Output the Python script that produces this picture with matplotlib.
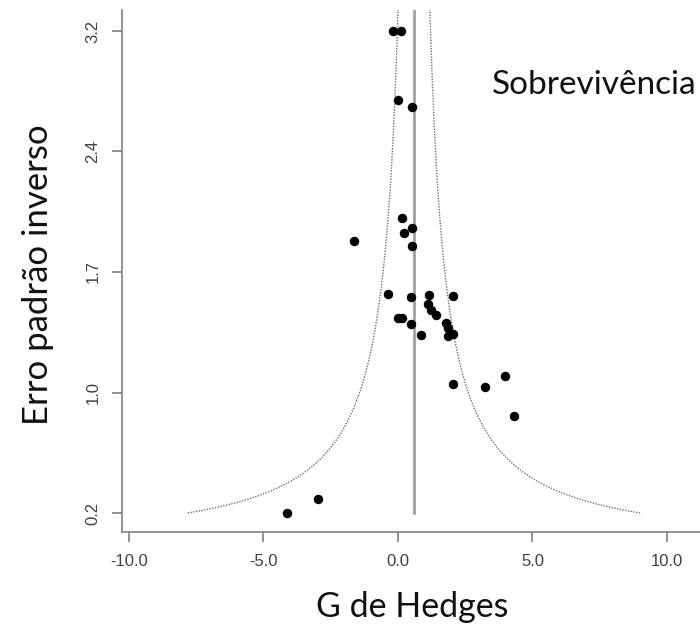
import numpy as np
import matplotlib
matplotlib.use("Agg")
import matplotlib.pyplot as plt

# effect sizes (Hedges g) and inverse standard errors
g = [-0.17, 0.10, -0.01, 0.51, 0.16, 0.51, 0.23, -1.62, 0.53,
     -0.36, 0.48, 1.15, 2.03, 1.10, 1.22, 1.41, -0.01, 0.14, 0.48,
     1.78, 1.85, 0.86, 1.87, 2.03, 2.03, 3.23, 3.98, 4.31, -4.14, -2.99]
prec = [3.18, 3.18, 2.758, 2.713, 2.038, 1.977, 1.943, 1.896, 1.867,
        1.570, 1.555, 1.566, 1.562, 1.509, 1.474, 1.444, 1.427, 1.427, 1.387,
        1.393, 1.366, 1.321, 1.317, 1.326, 1.020, 1.005, 1.071, 0.828, 0.233, 0.317]
centro = 0.595
xticks = [-10, -5, 0, 5, 10]

fig = plt.figure(figsize=(7, 6.37), dpi=100)
ax = fig.add_axes([122/700, (637-532)/637, (700-122)/700, (532-10)/637])

ylo, yhi = min(prec), max(prec)
ytop = 3.308
yy = np.linspace(ylo, ytop, 400)
ax.plot(centro - 1.96/yy, yy, color='#707070', lw=1.0, ls=(0, (1, 1)))
ax.plot(centro + 1.96/yy, yy, color='#707070', lw=1.0, ls=(0, (1, 1)))
ax.plot([centro, centro], [ylo, ytop], color='#a0a0a0', lw=2.0)
ax.plot(g, prec, 'o', color='black', ms=5.8, mec='black')

ax.set_xlim(-10.26, 11.23)
ax.set_ylim(0.117, ytop)
ax.set_xticks(xticks)
ax.set_xticklabels(['%.1f' % v for v in xticks])
yt = np.linspace(ylo, yhi, 5)
ax.set_yticks(yt)
ax.set_yticklabels(['%.1f' % v for v in yt], rotation=90, va='center')

for s in ['top', 'right']:
    ax.spines[s].set_visible(False)
for s in ['left', 'bottom']:
    ax.spines[s].set_color('#808080')
    ax.spines[s].set_linewidth(1.2)
ax.tick_params(length=7.5, width=1.2, color='#808080', labelcolor='#404040',
               labelsize=12, pad=8)
for lab in ax.get_xticklabels() + ax.get_yticklabels():
    lab.set_family('Liberation Sans')

fig.text(412/700, 1 - 607/637, 'G de Hedges', family='Lato', fontsize=24.5,
         ha='center', va='center', color='#111111')
fig.text(38/700, 1 - 275/637, 'Erro padrão inverso', family='Lato', fontsize=25,
         ha='center', va='center', rotation=90, color='#111111')
fig.text(492/700, 1 - 85/637, 'Sobrevivência', family='Lato', fontsize=24,
         ha='left', va='center', color='#111111')

fig.savefig('out.png', dpi=100)
